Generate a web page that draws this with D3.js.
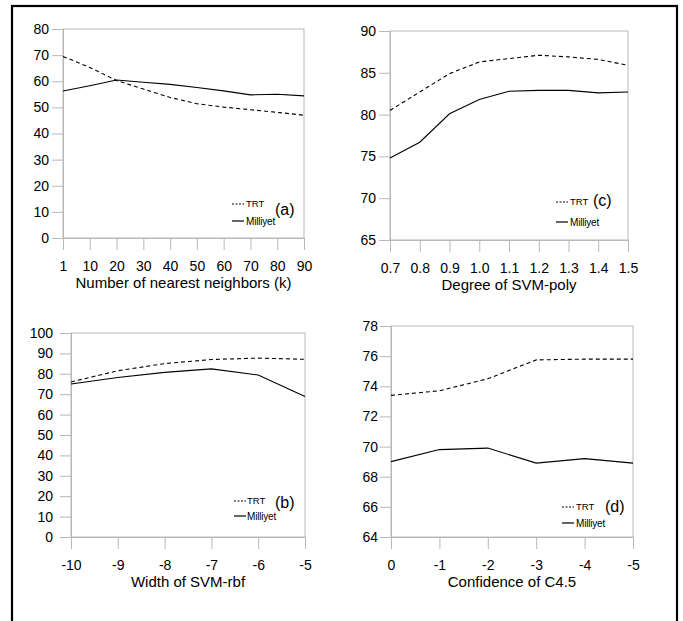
<!DOCTYPE html>
<html>
<head>
<meta charset="utf-8">
<script src="https://cdn.jsdelivr.net/npm/d3@7"></script>
<style>
  html, body { margin: 0; padding: 0; background: #fff; }
  svg { display: block; font-family: "Liberation Sans", Arial, sans-serif; }
</style>
</head>
<body>
<svg id="chart" width="683" height="621"></svg>
<script>
// ---- data ----
const seriesNames = ["TRT", "Milliyet"];

const aCategories = ["1", "10", "20", "30", "40", "50", "60", "70", "80", "90"];
const aTRT        = [69.5, 65.3, 60.3, 57.0, 53.8, 51.4, 50.1, 49.1, 48.1, 47.0];
const aMilliyet   = [56.3, 58.3, 60.5, 59.6, 58.8, 57.6, 56.3, 54.8, 55.0, 54.4];
const aTicks      = [0, 10, 20, 30, 40, 50, 60, 70, 80];

const cCategories = ["0.7", "0.8", "0.9", "1.0", "1.1", "1.2", "1.3", "1.4", "1.5"];
const cTRT        = [80.5, 82.7, 84.9, 86.3, 86.7, 87.1, 86.9, 86.6, 85.9];
const cMilliyet   = [74.8, 76.7, 80.1, 81.8, 82.8, 82.9, 82.9, 82.6, 82.7];
const cTicks      = [65, 70, 75, 80, 85, 90];

const bCategories = ["-10", "-9", "-8", "-7", "-6", "-5"];
const bTRT        = [76.0, 81.5, 85.0, 87.0, 87.7, 87.1];
const bMilliyet   = [75.0, 78.2, 80.7, 82.4, 79.4, 68.9];
const bTicks      = [0, 10, 20, 30, 40, 50, 60, 70, 80, 90, 100];

const dCategories = ["0", "-1", "-2", "-3", "-4", "-5"];
const dTRT        = [73.4, 73.7, 74.5, 75.75, 75.8, 75.8];
const dMilliyet   = [69.0, 69.8, 69.9, 68.9, 69.2, 68.9];
const dTicks      = [64, 66, 68, 70, 72, 74, 76, 78];

const titles = ["Number of nearest neighbors (k)", "Degree of SVM-poly", "Width of SVM-rbf", "Confidence of C4.5"];
const panelLabels = ["(a)", "(c)", "(b)", "(d)"];

// ---- layout ----
const panels = [
  { cats: aCategories, trt: aTRT, mil: aMilliyet, ticks: aTicks, title: titles[0], label: panelLabels[0],
    box: { l: 63, t: 29, r: 304, b: 238 }, yLblGap: 3, yTick: 11,
    leg: { lineX: -72, lineW: 12, textX: -58, trtY: -34, milY: -17, labX: -29, labY: -29 } },
  { cats: cCategories, trt: cTRT, mil: cMilliyet, ticks: cTicks, title: titles[1], label: panelLabels[1],
    box: { l: 390, t: 31, r: 628, b: 240 }, yLblGap: 3, yTick: 11,
    leg: { lineX: -72, lineW: 12, textX: -58, trtY: -38, milY: -18, labX: -35, labY: -40 } },
  { cats: bCategories, trt: bTRT, mil: bMilliyet, ticks: bTicks, title: titles[2], label: panelLabels[2],
    box: { l: 71, t: 333, r: 305, b: 537 }, yLblGap: 7, yTick: 11,
    leg: { lineX: -71, lineW: 12, textX: -58, trtY: -36, milY: -21, labX: -30, labY: -35 } },
  { cats: dCategories, trt: dTRT, mil: dMilliyet, ticks: dTicks, title: titles[3], label: panelLabels[3],
    box: { l: 391, t: 326, r: 633, b: 537 }, yLblGap: 2, yTick: 11,
    leg: { lineX: -71, lineW: 12, textX: -57, trtY: -30, milY: -14, labX: -28, labY: -31 } }
];

const gray = "#b8b8b8";
const svg = d3.select("#chart");

// outer frame
svg.append("rect")
  .attr("x", 12).attr("y", 6).attr("width", 665).attr("height", 700)
  .attr("fill", "none").attr("stroke", "#000").attr("stroke-width", 2.2);

panels.forEach(p => {
  const B = p.box;
  const x = d3.scalePoint().domain(p.cats).range([B.l, B.r]).padding(0);
  const y = d3.scaleLinear().domain([p.ticks[0], p.ticks[p.ticks.length - 1]]).range([B.b, B.t]);
  const g = svg.append("g");

  // plot box (top + right)
  g.append("rect")
    .attr("x", B.l).attr("y", B.t).attr("width", B.r - B.l).attr("height", B.b - B.t)
    .attr("fill", "none").attr("stroke", gray).attr("stroke-width", 1);

  // y axis
  const ya = g.append("g").attr("transform", `translate(${B.l},0)`)
    .call(d3.axisLeft(y).tickValues(p.ticks).tickSize(p.yTick).tickPadding(p.yLblGap).tickFormat(d3.format("d")));
  ya.select(".domain").attr("stroke", gray);
  ya.selectAll(".tick line").attr("stroke", gray);
  ya.selectAll(".tick text").attr("fill", "#000").style("font-size", "14px");

  // x axis
  const xa = g.append("g").attr("transform", `translate(0,${B.b})`)
    .call(d3.axisBottom(x).tickSize(12).tickPadding(11));
  xa.select(".domain").attr("stroke", gray);
  xa.selectAll(".tick line").attr("stroke", gray);
  xa.selectAll(".tick text").attr("fill", "#000").style("font-size", "14px");

  // title
  g.append("text")
    .attr("x", (B.l + B.r) / 2).attr("y", B.b + 50)
    .attr("text-anchor", "middle").style("font-size", "15px").attr("fill", "#000")
    .text(p.title);

  const line = d3.line().x((d, i) => x(p.cats[i])).y(d => y(d));
  g.append("path").datum(p.trt).attr("d", line)
    .attr("fill", "none").attr("stroke", "#000").attr("stroke-width", 1.1).attr("stroke-dasharray", "4,3");
  g.append("path").datum(p.mil).attr("d", line)
    .attr("fill", "none").attr("stroke", "#000").attr("stroke-width", 1.1);

  // legend
  const L = p.leg;
  const lg = g.append("g").attr("transform", `translate(${B.r},${B.b})`);
  lg.append("line").attr("x1", L.lineX).attr("x2", L.lineX + L.lineW).attr("y1", L.trtY).attr("y2", L.trtY)
    .attr("stroke", "#000").attr("stroke-width", 1).attr("stroke-dasharray", "2,1.5");
  lg.append("line").attr("x1", L.lineX).attr("x2", L.lineX + L.lineW).attr("y1", L.milY).attr("y2", L.milY)
    .attr("stroke", "#000").attr("stroke-width", 1.2);
  lg.append("text").attr("x", L.textX).attr("y", L.trtY).attr("dy", "0.35em")
    .style("font-size", "9.5px").text(seriesNames[0]);
  lg.append("text").attr("x", L.textX).attr("y", L.milY).attr("dy", "0.35em")
    .style("font-size", "10px").style("letter-spacing", "-0.2px").text(seriesNames[1]);
  lg.append("text").attr("x", L.labX).attr("y", L.labY).attr("dy", "0.35em")
    .style("font-size", "16px").text(p.label);
});
</script>
</body>
</html>
